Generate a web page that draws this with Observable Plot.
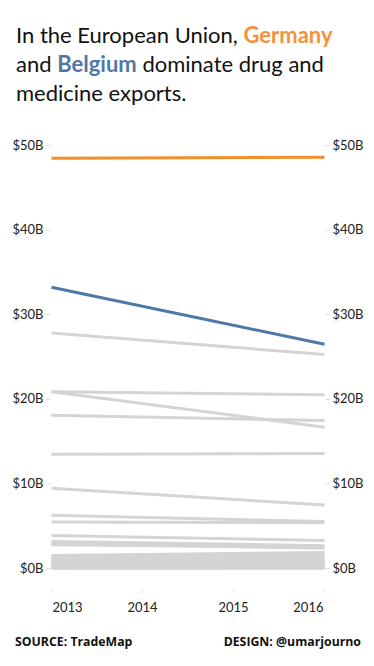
<!DOCTYPE html>
<html><head><meta charset="utf-8">
<script src="https://cdn.jsdelivr.net/npm/d3@7"></script>
<script src="https://cdn.jsdelivr.net/npm/@observablehq/plot@0.6"></script>
<style>
html,body{margin:0;padding:0;background:#fff;width:374px;height:666px;overflow:hidden;}
#title{position:absolute;left:16px;top:20px;width:356px;font-family:Lato,sans-serif;font-size:22px;line-height:29px;color:#111;}
#title b.de{color:#f4923a;}
#title b.be{color:#4e79a7;}
#chart{position:absolute;left:0;top:120px;}
.foot{position:absolute;top:633px;font-family:"Open Sans",sans-serif;font-weight:700;font-size:12.3px;color:#111;white-space:nowrap;}
</style></head><body>
<div id="title">In the European Union, <b class="de">Germany</b><br>and <b class="be">Belgium</b> dominate drug and<br>medicine exports.</div>
<div id="chart"></div>
<div class="foot" style="left:15px">SOURCE: TradeMap</div>
<div class="foot" style="right:13px">DESIGN: @umarjourno</div>
<script>
// Drug & medicine exports, billions USD
const countries = ["Germany","Belgium","France","Ireland","United Kingdom","Netherlands","Italy","Sweden","Denmark","Spain","Austria","Hungary","Slovenia","Poland",
  "Czech Republic","Portugal","Greece","Finland","Croatia","Slovakia","Lithuania","Bulgaria","Romania","Latvia","Luxembourg","Estonia","Cyprus","Malta"];
const v2013 = [48.5, 33.25, 27.85, 20.9, 20.9, 18.1, 13.5, 9.5, 6.3, 5.5, 3.9, 3.2, 3.0, 2.8,
  1.55, 1.35, 1.2, 1.05, 0.9, 0.75, 0.6, 0.48, 0.36, 0.26, 0.18, 0.1, 0.05, 0.02];
const v2016 = [48.6, 26.5, 25.3, 20.55, 16.7, 17.5, 13.6, 7.5, 5.55, 5.4, 3.3, 2.7, 2.4, 2.5,
  1.9, 1.6, 1.35, 1.2, 1.0, 0.85, 0.7, 0.55, 0.42, 0.3, 0.2, 0.12, 0.06, 0.02];
const years = [2013, 2016];
const xTicks = [2013, 2014, 2015, 2016];
const yTicks = [0, 10, 20, 30, 40, 50];
const highlighted = {Germany: "#f28e2b", Belgium: "#4e79a7"};

const rows = countries.flatMap((c, i) => [
  {country: c, year: years[0], value: v2013[i]},
  {country: c, year: years[1], value: v2016[i]}
]);
const others = rows.filter(d => !(d.country in highlighted));
const fmtY = d => `$${d}B`;
const axisStyle = {stroke: "#e2e2e2", fill: "#222", label: null};

const chart = Plot.plot({
  width: 374,
  height: 500,
  marginTop: 25,
  marginBottom: 30,
  marginLeft: 51,
  marginRight: 50,
  insetBottom: 22,
  style: {fontFamily: "Lato, sans-serif", fontSize: "13px", color: "#222", background: "#fff"},
  x: {domain: [2013, 2016], label: null},
  y: {domain: [0, 50], label: null},
  marks: [
    Plot.axisY(yTicks, {...axisStyle, anchor: "left", tickSize: 5, tickPadding: 3, tickFormat: fmtY}),
    Plot.axisY(yTicks, {...axisStyle, anchor: "right", tickSize: 5, tickPadding: 3, tickFormat: fmtY}),
    Plot.axisX([xTicks[0]], {...axisStyle, anchor: "bottom", tickSize: 3, tickPadding: 9, textAnchor: "start", dx: 1, tickFormat: d => String(d)}),
    Plot.axisX(xTicks.slice(1, 3), {...axisStyle, anchor: "bottom", tickSize: 3, tickPadding: 9, tickFormat: d => String(d)}),
    Plot.axisX([xTicks[3]], {...axisStyle, anchor: "bottom", tickSize: 3, tickPadding: 9, textAnchor: "end", dx: -1, tickFormat: d => String(d)}),
    Plot.line(others, {x: "year", y: "value", z: "country", stroke: "#d4d4d4", strokeWidth: 3, strokeLinecap: "butt"}),
    Plot.line(rows.filter(d => d.country === "Belgium"), {x: "year", y: "value", stroke: highlighted.Belgium, strokeWidth: 3, strokeLinecap: "butt"}),
    Plot.line(rows.filter(d => d.country === "Germany"), {x: "year", y: "value", stroke: highlighted.Germany, strokeWidth: 3, strokeLinecap: "butt"})
  ]
});
document.getElementById("chart").append(chart);
</script>
</body></html>
